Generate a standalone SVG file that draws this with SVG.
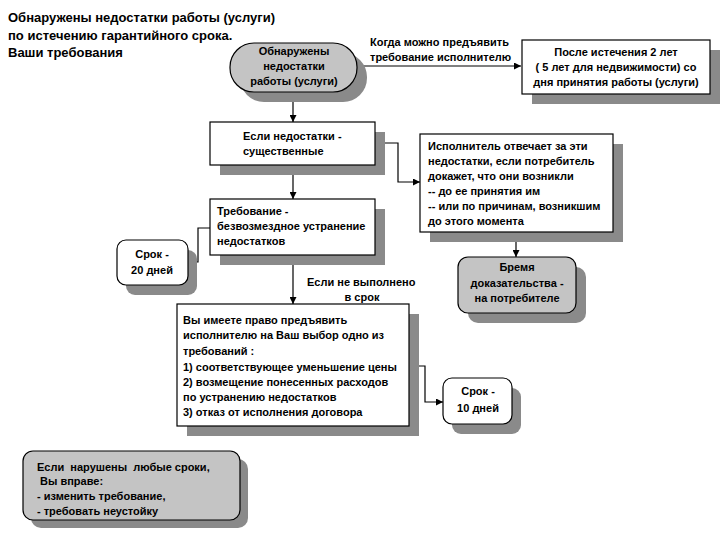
<svg xmlns="http://www.w3.org/2000/svg" width="720" height="540" viewBox="0 0 720 540">
<style>
text{font-family:"Liberation Sans",Arial,sans-serif;font-weight:bold;font-size:11px;fill:#000}
.title{font-size:13px}
.c{text-anchor:middle}
.sh{fill:#8a8a8a;stroke:none}
.w{fill:#fff;stroke:#000;stroke-width:1.2}
.g{fill:#c4c4c4;stroke:#000;stroke-width:1.2}
.ln{fill:none;stroke:#000;stroke-width:1.2;marker-end:url(#ar)}
</style>
<defs>
<marker id="ar" viewBox="0 0 10 10" refX="10" refY="5" markerWidth="7" markerHeight="7" markerUnits="userSpaceOnUse" orient="auto">
<path d="M0,0 L10,5 L0,10 z" fill="#000"/>
</marker>
</defs>
<rect width="720" height="540" fill="#fff"/>
<g id="title">
<text class="title" x="8" y="22">Обнаружены недостатки работы (услуги)</text>
<text class="title" x="8" y="40">по истечению гарантийного срока.</text>
<text class="title" x="8" y="57">Ваши требования</text>
</g>
<g id="connectors">
<path class="ln" d="M293,92 V122"/>
<path class="ln" d="M357,66 H521"/>
<path class="ln" d="M375,143 H398 V182 H420"/>
<path class="ln" d="M293,165 V199"/>
<path class="ln" d="M516,232 V257"/>
<path class="ln" d="M210,228 H198 V262 H189"/>
<path class="ln" d="M293,255 V304"/>
<path class="ln" d="M409,366 H425 V402 H443"/>
</g>
<g id="labels">
<text x="370" y="46">Когда можно предъявить</text>
<text x="370" y="61">требование исполнителю</text>
<text x="307" y="286">Если не выполнено</text>
<text class="c" x="362" y="301">в срок</text>
</g>
<g id="n1">
<rect class="sh" x="240" y="53" width="127" height="49" rx="24"/>
<rect class="g" x="230" y="43" width="127" height="49" rx="24"/>
<text class="c" x="294" y="55">Обнаружены</text>
<text class="c" x="294" y="70">недостатки</text>
<text class="c" x="294" y="85">работы (услуги)</text>
</g>
<g id="n2">
<rect class="sh" x="532" y="50" width="188" height="54"/>
<rect class="w" x="522" y="40" width="188" height="54"/>
<text class="c" x="616" y="56">После истечения 2 лет</text>
<text class="c" x="616" y="71">( 5 лет для недвижимости) со</text>
<text class="c" x="616" y="86">дня принятия работы (услуги)</text>
</g>
<g id="n3">
<rect class="sh" x="220" y="132" width="165" height="43"/>
<rect class="w" x="210" y="122" width="165" height="43"/>
<text x="243" y="140">Если недостатки -</text>
<text x="243" y="155">существенные</text>
</g>
<g id="n4">
<rect class="sh" x="430" y="144" width="193" height="98"/>
<rect class="w" x="420" y="134" width="193" height="98"/>
<text x="428" y="150">Исполнитель отвечает за эти</text>
<text x="428" y="165">недостатки, если потребитель</text>
<text x="428" y="180">докажет, что они возникли</text>
<text x="428" y="195">-- до ее принятия им</text>
<text x="428" y="210">-- или по причинам, возникшим</text>
<text x="428" y="225">до этого момента</text>
</g>
<g id="n5">
<rect class="sh" x="468" y="267" width="118" height="56" rx="10"/>
<rect class="g" x="458" y="257" width="118" height="56" rx="10"/>
<text class="c" x="517" y="271">Бремя</text>
<text class="c" x="517" y="287">доказательства -</text>
<text class="c" x="517" y="302">на потребителе</text>
</g>
<g id="n6">
<rect class="sh" x="220" y="209" width="165" height="56"/>
<rect class="w" x="210" y="199" width="165" height="56"/>
<text x="217" y="215">Требование -</text>
<text x="217" y="230">безвозмездное устранение</text>
<text x="217" y="245">недостатков</text>
</g>
<g id="n7">
<rect class="sh" x="126" y="250" width="71" height="45" rx="9"/>
<rect class="w" x="117" y="240" width="71" height="45" rx="9"/>
<text class="c" x="152" y="258">Срок -</text>
<text class="c" x="152" y="274">20 дней</text>
</g>
<g id="n8">
<rect class="sh" x="187" y="314" width="232" height="122"/>
<rect class="w" x="177" y="304" width="232" height="122"/>
<text x="183" y="324">Вы имеете право предъявить</text>
<text x="183" y="339">исполнителю на Ваш выбор одно из</text>
<text x="183" y="355">требований :</text>
<text x="183" y="371">1) соответствующее уменьшение цены</text>
<text x="183" y="386">2) возмещение понесенных расходов</text>
<text x="183" y="401">по устранению недостатков</text>
<text x="183" y="416">3) отказ от исполнения договора</text>
</g>
<g id="n9">
<rect class="sh" x="452" y="388" width="69" height="46" rx="9"/>
<rect class="w" x="443" y="378" width="69" height="46" rx="9"/>
<text class="c" x="478" y="395">Срок -</text>
<text class="c" x="478" y="412">10 дней</text>
</g>
<g id="n10">
<rect class="sh" x="31" y="459" width="217" height="69" rx="10"/>
<rect class="g" x="23" y="451" width="217" height="69" rx="10"/>
<text x="37" y="471" xml:space="preserve">Если  нарушены  любые сроки,</text>
<text x="37" y="485" xml:space="preserve"> Вы вправе:</text>
<text x="37" y="500">- изменить требование,</text>
<text x="37" y="515">- требовать неустойку</text>
</g>
</svg>
